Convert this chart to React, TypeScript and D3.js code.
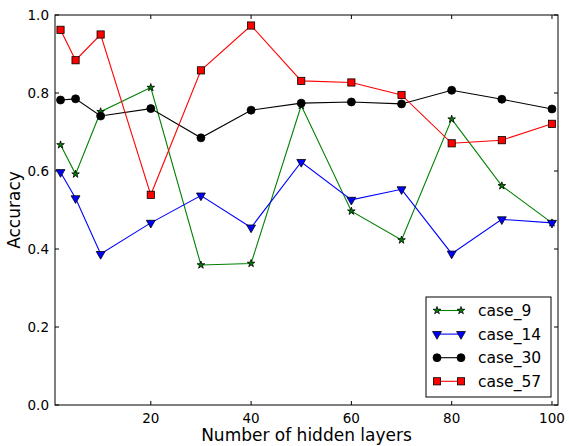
import { useEffect, useRef } from 'react'
import * as d3 from 'd3'

const layers = [2, 5, 10, 20, 30, 40, 50, 60, 70, 80, 90, 100]
const case9 = [0.667, 0.592, 0.752, 0.814, 0.359, 0.363, 0.768, 0.497, 0.423, 0.733, 0.562, 0.467]
const case14 = [0.597, 0.530, 0.387, 0.467, 0.537, 0.455, 0.623, 0.526, 0.553, 0.388, 0.476, 0.467]
const case30 = [0.782, 0.785, 0.741, 0.760, 0.685, 0.756, 0.774, 0.777, 0.772, 0.807, 0.784, 0.759]
const case57 = [0.962, 0.884, 0.950, 0.539, 0.858, 0.973, 0.831, 0.827, 0.795, 0.671, 0.679, 0.721]
const seriesNames = ['case_9', 'case_14', 'case_30', 'case_57']
const xTicks = [20, 40, 60, 80, 100]
const yTicks = [0.0, 0.2, 0.4, 0.6, 0.8, 1.0]

const font = 'DejaVu Sans, sans-serif'

export default function App() {
  const svgRef = useRef<SVGSVGElement>(null)

  useEffect(() => {
    if (!svgRef.current) return
    const svg = d3.select(svgRef.current)
    svg.selectAll('*').remove()

    const W = 569
    const H = 446
    const margin = { top: 15, right: 11, bottom: 41, left: 55 }
    const width = W - margin.left - margin.right
    const height = H - margin.top - margin.bottom

    svg.attr('width', W).attr('height', H)
    const g = svg.append('g').attr('transform', `translate(${margin.left},${margin.top})`)

    const x = d3.scaleLinear().domain([0.9, 101.2]).range([0, width])
    const y = d3.scaleLinear().domain([0, 1]).range([height, 0])

    // ticks inward on all four sides (classic matplotlib)
    const tl = 4
    xTicks.forEach(t => {
      g.append('line').attr('x1', x(t)).attr('x2', x(t)).attr('y1', height).attr('y2', height - tl).attr('stroke', '#000')
      g.append('line').attr('x1', x(t)).attr('x2', x(t)).attr('y1', 0).attr('y2', tl).attr('stroke', '#000')
      g.append('text')
        .attr('x', x(t)).attr('y', height + 18)
        .attr('text-anchor', 'middle')
        .style('font-family', font).style('font-size', '13.5px')
        .text(String(t))
    })
    yTicks.forEach(t => {
      g.append('line').attr('x1', 0).attr('x2', tl).attr('y1', y(t)).attr('y2', y(t)).attr('stroke', '#000')
      g.append('line').attr('x1', width).attr('x2', width - tl).attr('y1', y(t)).attr('y2', y(t)).attr('stroke', '#000')
      g.append('text')
        .attr('x', -6).attr('y', y(t))
        .attr('dy', '0.35em')
        .attr('text-anchor', 'end')
        .style('font-family', font).style('font-size', '13.5px')
        .text(t.toFixed(1))
    })

    const series = [
      { name: seriesNames[0], values: case9, color: '#008000', marker: 'star' },
      { name: seriesNames[1], values: case14, color: '#0000ff', marker: 'tri' },
      { name: seriesNames[2], values: case30, color: '#000000', marker: 'circle' },
      { name: seriesNames[3], values: case57, color: '#ff0000', marker: 'square' },
    ]

    const line = d3.line<number>()
      .x((_, i) => x(layers[i]))
      .y(d => y(d))

    const drawMarker = (sel: d3.Selection<SVGGElement, unknown, null, undefined>, kind: string, color: string, cx: number, cy: number) => {
      if (kind === 'circle') {
        sel.append('circle').attr('cx', cx).attr('cy', cy).attr('r', 4).attr('fill', color).attr('stroke', '#000').attr('stroke-width', 0.8)
      } else if (kind === 'square') {
        sel.append('rect').attr('x', cx - 3.6).attr('y', cy - 3.6).attr('width', 7.2).attr('height', 7.2)
          .attr('fill', color).attr('stroke', '#000').attr('stroke-width', 0.8)
      } else if (kind === 'tri') {
        sel.append('path')
          .attr('d', d3.symbol(d3.symbolTriangle, 34)())
          .attr('transform', `translate(${cx},${cy}) rotate(180)`)
          .attr('fill', color).attr('stroke', '#000').attr('stroke-width', 0.8)
      } else {
        sel.append('path')
          .attr('d', d3.symbol(d3.symbolStar, 18)())
          .attr('transform', `translate(${cx},${cy})`)
          .attr('fill', color).attr('stroke', '#000').attr('stroke-width', 0.8)
      }
    }

    series.forEach(s => {
      g.append('path')
        .datum(s.values)
        .attr('fill', 'none')
        .attr('stroke', s.color)
        .attr('stroke-width', 1.1)
        .attr('d', line)
    })
    series.forEach(s => {
      const mg = g.append('g')
      s.values.forEach((v, i) => drawMarker(mg, s.marker, s.color, x(layers[i]), y(v)))
    })

    // frame
    g.append('rect')
      .attr('width', width).attr('height', height)
      .attr('fill', 'none').attr('stroke', '#000').attr('stroke-width', 1)

    // legend
    const legend = g.append('g').attr('transform', `translate(${426 - margin.left},${297 - margin.top})`)
    legend.append('rect')
      .attr('width', 125).attr('height', 100)
      .attr('fill', '#fff').attr('stroke', '#000').attr('stroke-width', 1)
    series.forEach((s, i) => {
      const ly = 13.5 + i * 23.6
      legend.append('line')
        .attr('x1', 11).attr('x2', 35).attr('y1', ly).attr('y2', ly)
        .attr('stroke', s.color).attr('stroke-width', 1.1)
      drawMarker(legend, s.marker, s.color, 11, ly)
      drawMarker(legend, s.marker, s.color, 35, ly)
      legend.append('text')
        .attr('x', 52).attr('y', ly)
        .attr('dy', '0.35em')
        .style('font-family', font).style('font-size', '15.5px')
        .text(s.name)
    })

    g.append('text')
      .attr('x', width / 2).attr('y', height + 36)
      .attr('text-anchor', 'middle')
      .style('font-family', font).style('font-size', '17px')
      .text('Number of hidden layers')

    g.append('text')
      .attr('transform', 'rotate(-90)')
      .attr('x', -height / 2).attr('y', -35)
      .attr('text-anchor', 'middle')
      .style('font-family', font).style('font-size', '17px')
      .text('Accuracy')
  }, [])

  return (
    <div style={{ position: 'absolute', left: 0, top: 0 }}>
      <svg ref={svgRef}></svg>
    </div>
  )
}
